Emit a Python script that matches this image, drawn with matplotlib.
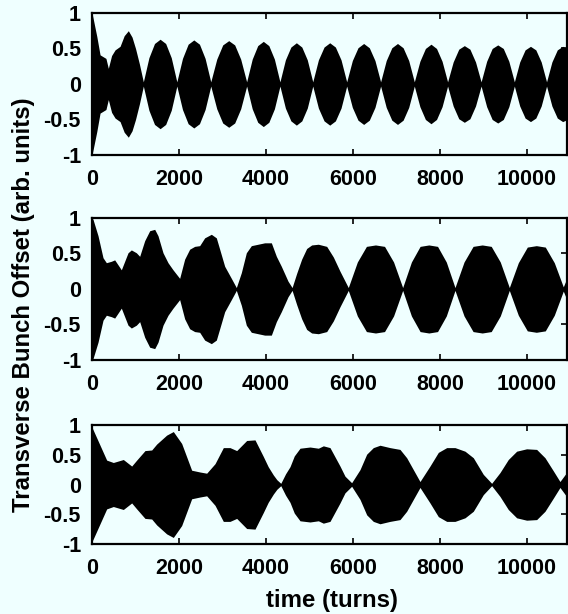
import numpy as np
import matplotlib
matplotlib.use('Agg')
import matplotlib.pyplot as plt

# ------------------------------------------------------------
# Dados: envelope (amplitude) da oscilacao
# ------------------------------------------------------------
turns_top = [0, 60, 110, 185, 320, 375, 450, 530, 645, 740, 835, 920, 1000,
             1090, 1180,
             1308, 1437, 1565, 1693, 1822, 1950,
             2080, 2210, 2340, 2470, 2600, 2730,
             2868, 3005, 3143, 3280, 3418, 3555,
             3683, 3810, 3938, 4065, 4193, 4320,
             4446, 4572, 4698, 4823, 4949, 5075,
             5205, 5335, 5465, 5595, 5725, 5855,
             5985, 6115, 6245, 6375, 6505, 6635,
             6764, 6893, 7023, 7152, 7281, 7410,
             7538, 7665, 7793, 7920, 8048, 8175,
             8303, 8432, 8560, 8688, 8817, 8945,
             9073, 9200, 9328, 9455, 9583, 9710,
             9833, 9957, 10080, 10203, 10327, 10450,
             10573, 10697, 10820, 10930]
amp_top = [1.0, 0.82, 0.67, 0.41, 0.36, 0.22, 0.40, 0.48, 0.53, 0.68, 0.75, 0.66, 0.50,
           0.28, 0.03,
           0.37, 0.57, 0.63, 0.57, 0.37, 0.03,
           0.36, 0.56, 0.62, 0.56, 0.36, 0.03,
           0.35, 0.55, 0.61, 0.55, 0.35, 0.03,
           0.35, 0.54, 0.60, 0.54, 0.35, 0.03,
           0.34, 0.52, 0.58, 0.52, 0.34, 0.03,
           0.34, 0.52, 0.58, 0.52, 0.34, 0.03,
           0.33, 0.51, 0.57, 0.51, 0.33, 0.03,
           0.33, 0.51, 0.57, 0.51, 0.33, 0.03,
           0.32, 0.50, 0.56, 0.50, 0.32, 0.03,
           0.31, 0.49, 0.54, 0.49, 0.31, 0.03,
           0.32, 0.50, 0.55, 0.50, 0.32, 0.03,
           0.31, 0.48, 0.53, 0.48, 0.31, 0.03,
           0.31, 0.48, 0.53, 0.50]

turns_mid = [0, 23, 138, 253, 330, 444, 521, 598, 674, 751, 828, 904, 1019,
             1096, 1211, 1326, 1441, 1517, 1632, 1747, 1862, 2015, 2130,
             2245, 2360, 2475, 2590, 2743, 2858, 2935, 3050, 3203, 3318,
             3433, 3548, 3663, 3816, 3970, 4123, 4238, 4352, 4506, 4600,
             4705, 4820, 4935, 5050, 5203, 5395, 5548, 5701, 5892,
             6100, 6309, 6517, 6725, 6933, 7142,
             7343, 7543, 7744, 7944, 8145, 8345,
             8553, 8761, 8970, 9178, 9386, 9594,
             9801, 10008, 10215, 10421, 10628, 10835, 10930]
amp_mid = [1.0, 0.98, 0.75, 0.44, 0.37, 0.39, 0.41, 0.34, 0.27, 0.39, 0.51, 0.55, 0.51,
           0.46, 0.68, 0.82, 0.84, 0.75, 0.51, 0.37, 0.27, 0.15, 0.42,
           0.56, 0.60, 0.61, 0.72, 0.77, 0.72, 0.56, 0.32, 0.15, 0.02,
           0.23, 0.51, 0.61, 0.63, 0.65, 0.65, 0.46, 0.32, 0.11, 0.02,
           0.22, 0.42, 0.57, 0.62, 0.63, 0.60, 0.45, 0.25, 0.02,
           0.38, 0.60, 0.62, 0.60, 0.38, 0.02,
           0.38, 0.60, 0.62, 0.60, 0.38, 0.02,
           0.38, 0.60, 0.62, 0.60, 0.38, 0.02,
           0.37, 0.59, 0.61, 0.59, 0.37, 0.03, 0.17]

turns_bot = [0, 184, 337, 490, 720, 912, 1027, 1218, 1372, 1487, 1716, 1869,
             2061, 2291, 2483, 2636, 2828, 3019, 3172, 3326, 3556, 3747,
             3939, 4050, 4169, 4250, 4340, 4450, 4552, 4650, 4782, 5011,
             5203, 5318, 5471, 5560, 5701, 5816, 5969, 6161, 6315, 6467,
             6621, 6851, 7080, 7234, 7387, 7540, 7770, 7962, 8154, 8345,
             8575, 8766, 8996, 9188, 9379, 9570, 9763, 9992, 10222, 10414,
             10605, 10758, 10930]
amp_bot = [0.96, 0.66, 0.41, 0.37, 0.42, 0.31, 0.41, 0.57, 0.58, 0.68, 0.83, 0.89,
           0.69, 0.24, 0.21, 0.19, 0.35, 0.62, 0.62, 0.57, 0.74, 0.75,
           0.47, 0.30, 0.16, 0.08, 0.02, 0.18, 0.30, 0.48, 0.61, 0.63,
           0.61, 0.65, 0.62, 0.50, 0.31, 0.14, 0.03, 0.25, 0.51, 0.62,
           0.66, 0.62, 0.59, 0.45, 0.25, 0.05, 0.31, 0.54, 0.62, 0.62,
           0.56, 0.45, 0.17, 0.02, 0.20, 0.42, 0.56, 0.60, 0.59, 0.45,
           0.23, 0.05, 0.22]

xticks = [0, 2000, 4000, 6000, 8000, 10000]
yticks = [-1, -0.5, 0, 0.5, 1]
ytick_labels = ['-1', '-0.5', '0', '0.5', '1']

BG = '#EFFFFF'
plt.rcParams['font.family'] = ['Liberation Sans', 'DejaVu Sans']
plt.rcParams['font.weight'] = 'bold'

fig = plt.figure(figsize=(5.68, 6.14), dpi=100, facecolor=BG)

# posicoes dos paineis em fracao da figura (left, bottom, width, height)
paineis = [
    (turns_top, amp_top, [0.162, 0.7476, 0.837, 0.2313]),
    (turns_mid, amp_mid, [0.162, 0.4137, 0.837, 0.2313]),
    (turns_bot, amp_bot, [0.162, 0.1140, 0.837, 0.1938]),
]

for turns, amp, pos in paineis:
    ax = fig.add_axes(pos, facecolor=BG)
    t = np.array(turns)
    a = np.array(amp)
    ax.fill_between(t, -a, a, color='black', linewidth=0)
    ax.set_xlim(0, 10930)
    ax.set_ylim(-1, 1)
    ax.set_xticks(xticks)
    ax.set_yticks(yticks)
    ax.set_yticklabels(ytick_labels)
    ax.tick_params(direction='in', length=4, width=1.2, top=True, right=True,
                   labelsize=15.5)
    ax.tick_params(axis='x', pad=10)
    ax.tick_params(axis='y', pad=8)
    for sp in ax.spines.values():
        sp.set_linewidth(1.6)

fig.text(0.584, 0.0114, 'time (turns)', ha='center', va='baseline',
         fontsize=17.3, fontweight='bold')
fig.text(0.0405, 0.504, 'Transverse Bunch Offset (arb. units)', ha='center',
         va='center', rotation=90, fontsize=17.3, fontweight='bold')

plt.savefig('out.png', dpi=100, facecolor=BG)
plt.close()
